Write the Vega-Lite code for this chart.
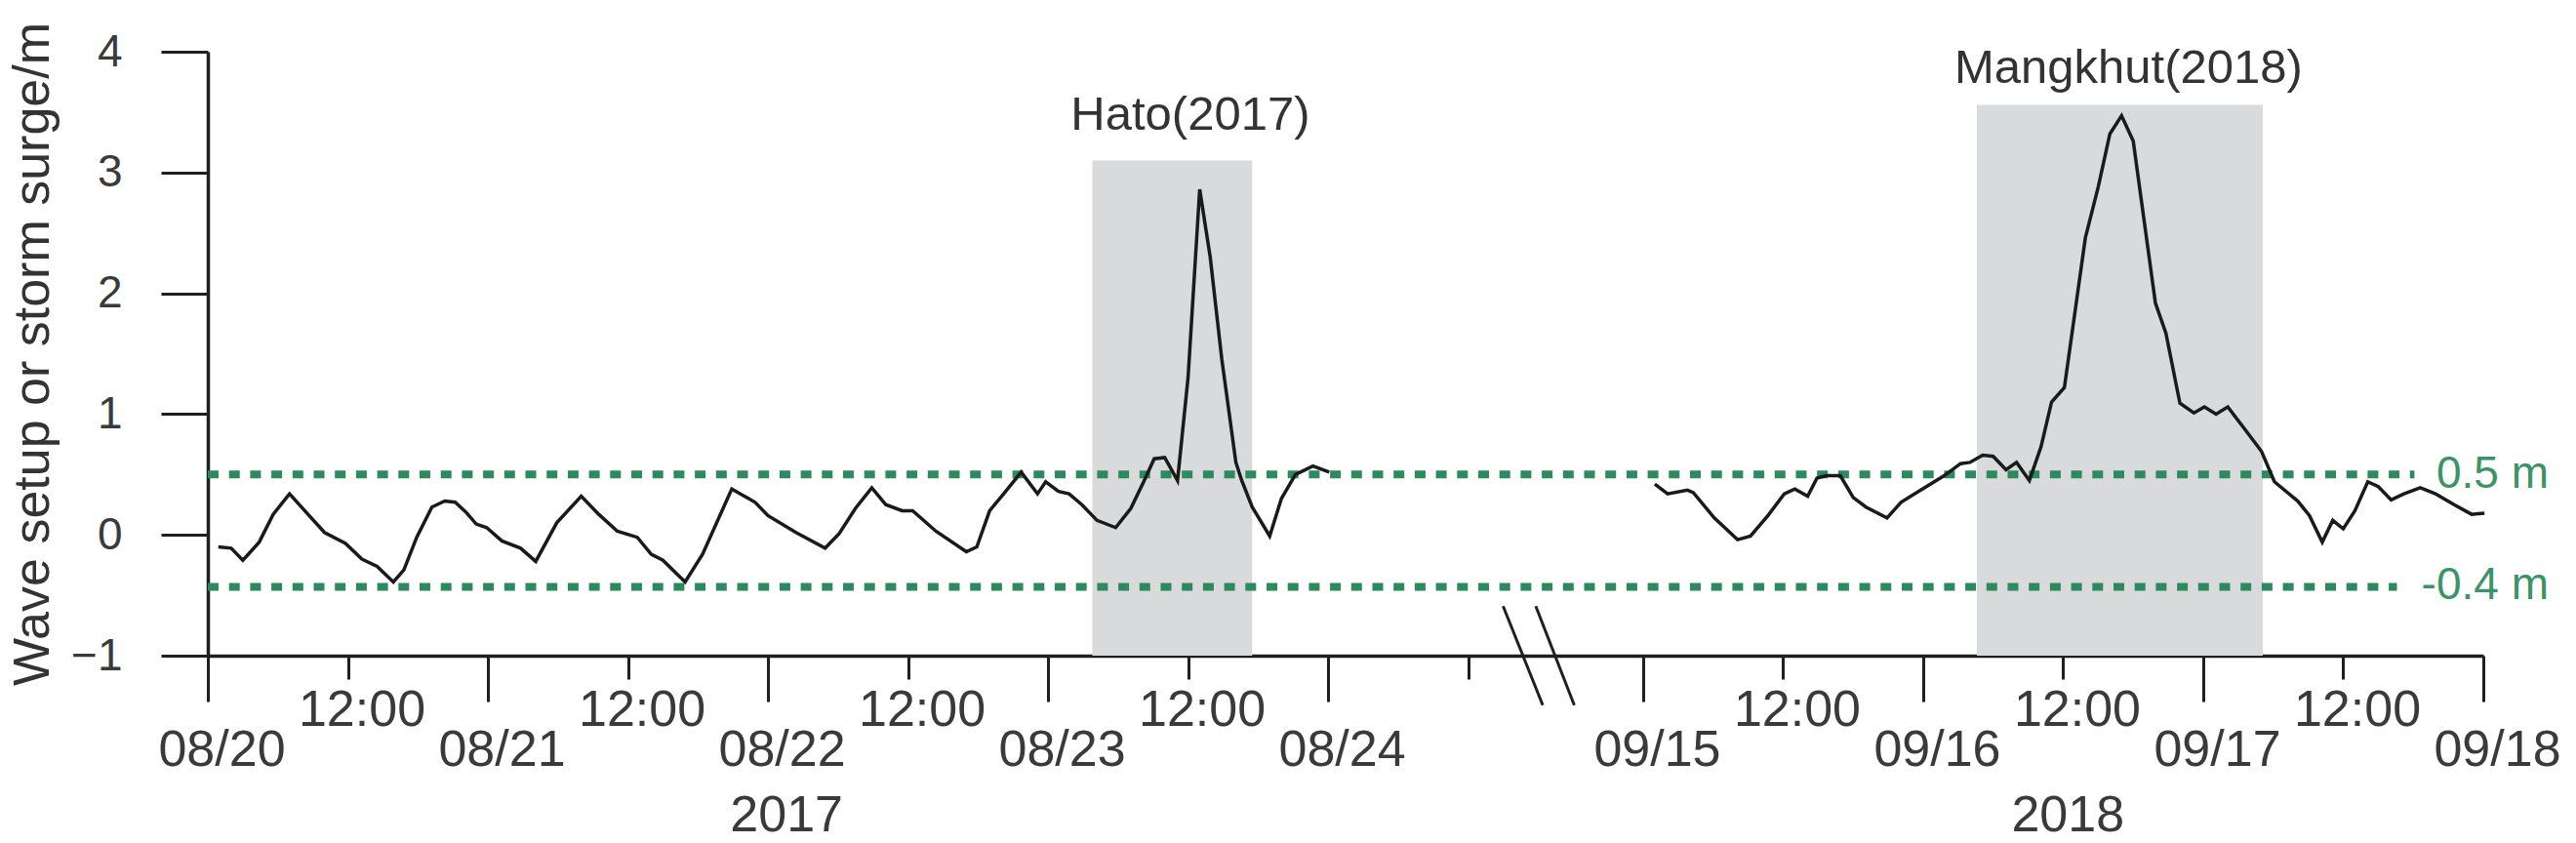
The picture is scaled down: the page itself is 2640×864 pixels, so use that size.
{
  "$schema": "https://vega.github.io/schema/vega-lite/v6.json",
  "width": 2332,
  "height": 619,
  "autosize": {"type": "none"},
  "padding": {"left": 213, "top": 53, "right": 95, "bottom": 192},
  "background": "white",
  "config": {"view": {"stroke": null}, "font": "Liberation Sans"},
  "data": {"values": [{}]},
  "datasets": {
    "series": [
      {"event": "2017", "h": 0.9, "v": -0.10}, {"event": "2017", "h": 2.0, "v": -0.11}, {"event": "2017", "h": 3.0, "v": -0.21},
      {"event": "2017", "h": 4.4, "v": -0.06}, {"event": "2017", "h": 5.6, "v": 0.17}, {"event": "2017", "h": 7.0, "v": 0.34},
      {"event": "2017", "h": 8.3, "v": 0.20}, {"event": "2017", "h": 10.0, "v": 0.02}, {"event": "2017", "h": 11.8, "v": -0.07},
      {"event": "2017", "h": 13.2, "v": -0.20}, {"event": "2017", "h": 14.5, "v": -0.26}, {"event": "2017", "h": 15.9, "v": -0.39},
      {"event": "2017", "h": 16.8, "v": -0.29}, {"event": "2017", "h": 17.9, "v": -0.02}, {"event": "2017", "h": 19.2, "v": 0.23},
      {"event": "2017", "h": 20.3, "v": 0.28}, {"event": "2017", "h": 21.2, "v": 0.27}, {"event": "2017", "h": 22.1, "v": 0.19},
      {"event": "2017", "h": 23.0, "v": 0.09}, {"event": "2017", "h": 23.9, "v": 0.06}, {"event": "2017", "h": 25.2, "v": -0.05},
      {"event": "2017", "h": 26.8, "v": -0.11}, {"event": "2017", "h": 28.1, "v": -0.22}, {"event": "2017", "h": 29.9, "v": 0.10},
      {"event": "2017", "h": 32.0, "v": 0.32}, {"event": "2017", "h": 33.5, "v": 0.17}, {"event": "2017", "h": 35.1, "v": 0.03},
      {"event": "2017", "h": 36.8, "v": -0.02}, {"event": "2017", "h": 38.0, "v": -0.16}, {"event": "2017", "h": 39.0, "v": -0.21},
      {"event": "2017", "h": 40.9, "v": -0.39}, {"event": "2017", "h": 42.4, "v": -0.16}, {"event": "2017", "h": 44.9, "v": 0.38},
      {"event": "2017", "h": 46.9, "v": 0.27}, {"event": "2017", "h": 48.0, "v": 0.16}, {"event": "2017", "h": 50.4, "v": 0.02},
      {"event": "2017", "h": 52.9, "v": -0.11}, {"event": "2017", "h": 54.1, "v": 0.01}, {"event": "2017", "h": 55.5, "v": 0.22},
      {"event": "2017", "h": 56.9, "v": 0.39}, {"event": "2017", "h": 58.1, "v": 0.25}, {"event": "2017", "h": 59.5, "v": 0.20},
      {"event": "2017", "h": 60.4, "v": 0.20}, {"event": "2017", "h": 62.4, "v": 0.03}, {"event": "2017", "h": 65.0, "v": -0.14},
      {"event": "2017", "h": 65.9, "v": -0.10}, {"event": "2017", "h": 67.0, "v": 0.20}, {"event": "2017", "h": 68.2, "v": 0.34},
      {"event": "2017", "h": 69.7, "v": 0.52}, {"event": "2017", "h": 71.1, "v": 0.34}, {"event": "2017", "h": 71.8, "v": 0.44},
      {"event": "2017", "h": 72.9, "v": 0.36}, {"event": "2017", "h": 73.8, "v": 0.34}, {"event": "2017", "h": 74.9, "v": 0.25},
      {"event": "2017", "h": 76.2, "v": 0.12}, {"event": "2017", "h": 77.8, "v": 0.06}, {"event": "2017", "h": 79.1, "v": 0.22},
      {"event": "2017", "h": 80.2, "v": 0.44}, {"event": "2017", "h": 81.1, "v": 0.63}, {"event": "2017", "h": 82.0, "v": 0.64},
      {"event": "2017", "h": 83.1, "v": 0.45}, {"event": "2017", "h": 84.0, "v": 1.30}, {"event": "2017", "h": 85.0, "v": 2.86},
      {"event": "2017", "h": 85.9, "v": 2.30}, {"event": "2017", "h": 86.9, "v": 1.45}, {"event": "2017", "h": 88.1, "v": 0.60},
      {"event": "2017", "h": 88.6, "v": 0.45}, {"event": "2017", "h": 89.5, "v": 0.23}, {"event": "2017", "h": 91.0, "v": -0.01},
      {"event": "2017", "h": 92.0, "v": 0.30}, {"event": "2017", "h": 93.2, "v": 0.50}, {"event": "2017", "h": 94.7, "v": 0.57},
      {"event": "2017", "h": 96.1, "v": 0.52},
      {"event": "2018", "h": 124.0, "v": 0.42}, {"event": "2018", "h": 125.1, "v": 0.34}, {"event": "2018", "h": 126.8, "v": 0.37},
      {"event": "2018", "h": 127.3, "v": 0.35}, {"event": "2018", "h": 129.1, "v": 0.14}, {"event": "2018", "h": 131.1, "v": -0.04},
      {"event": "2018", "h": 132.2, "v": -0.01}, {"event": "2018", "h": 133.7, "v": 0.16}, {"event": "2018", "h": 135.1, "v": 0.34},
      {"event": "2018", "h": 136.0, "v": 0.38}, {"event": "2018", "h": 137.1, "v": 0.32}, {"event": "2018", "h": 137.9, "v": 0.47},
      {"event": "2018", "h": 138.7, "v": 0.49}, {"event": "2018", "h": 139.9, "v": 0.49}, {"event": "2018", "h": 141.0, "v": 0.31},
      {"event": "2018", "h": 142.1, "v": 0.23}, {"event": "2018", "h": 143.9, "v": 0.14}, {"event": "2018", "h": 145.1, "v": 0.27},
      {"event": "2018", "h": 147.1, "v": 0.39}, {"event": "2018", "h": 148.8, "v": 0.49}, {"event": "2018", "h": 150.2, "v": 0.59},
      {"event": "2018", "h": 151.0, "v": 0.60}, {"event": "2018", "h": 152.1, "v": 0.66}, {"event": "2018", "h": 153.0, "v": 0.65},
      {"event": "2018", "h": 154.1, "v": 0.54}, {"event": "2018", "h": 155.0, "v": 0.60}, {"event": "2018", "h": 156.1, "v": 0.45},
      {"event": "2018", "h": 157.1, "v": 0.73}, {"event": "2018", "h": 158.0, "v": 1.10}, {"event": "2018", "h": 159.1, "v": 1.22},
      {"event": "2018", "h": 160.9, "v": 2.46}, {"event": "2018", "h": 162.0, "v": 2.88}, {"event": "2018", "h": 163.0, "v": 3.32},
      {"event": "2018", "h": 164.0, "v": 3.47}, {"event": "2018", "h": 165.0, "v": 3.26}, {"event": "2018", "h": 166.9, "v": 1.92},
      {"event": "2018", "h": 167.8, "v": 1.67}, {"event": "2018", "h": 169.0, "v": 1.09}, {"event": "2018", "h": 170.2, "v": 1.01},
      {"event": "2018", "h": 171.1, "v": 1.06}, {"event": "2018", "h": 172.1, "v": 1.00}, {"event": "2018", "h": 173.1, "v": 1.06},
      {"event": "2018", "h": 174.6, "v": 0.87}, {"event": "2018", "h": 176.0, "v": 0.69}, {"event": "2018", "h": 177.1, "v": 0.44},
      {"event": "2018", "h": 179.1, "v": 0.28}, {"event": "2018", "h": 180.1, "v": 0.16}, {"event": "2018", "h": 181.2, "v": -0.06},
      {"event": "2018", "h": 182.1, "v": 0.12}, {"event": "2018", "h": 183.0, "v": 0.05}, {"event": "2018", "h": 184.0, "v": 0.20},
      {"event": "2018", "h": 185.1, "v": 0.44}, {"event": "2018", "h": 186.0, "v": 0.40}, {"event": "2018", "h": 187.1, "v": 0.29},
      {"event": "2018", "h": 188.2, "v": 0.34}, {"event": "2018", "h": 189.6, "v": 0.39}, {"event": "2018", "h": 190.9, "v": 0.34},
      {"event": "2018", "h": 192.5, "v": 0.25}, {"event": "2018", "h": 194.0, "v": 0.17}, {"event": "2018", "h": 195.1, "v": 0.18}
    ],
    "shades": [
      {"event": "Hato", "start": 75.8, "end": 89.5, "top": 3.10},
      {"event": "Mangkhut", "start": 151.6, "end": 176.1, "top": 3.56}
    ]
  },
  "layer": [
    {
      "data": {"name": "shades"},
      "mark": {"type": "rect", "color": "#d9dadb"},
      "encoding": {
        "x": {
          "field": "start", "type": "quantitative",
          "scale": {"domain": [0, 195], "nice": false, "zero": false},
          "axis": {
            "values": [0, 12, 24, 36, 48, 60, 72, 84, 96, 108, 123, 135, 147, 159, 171, 183, 195],
            "labelExpr": "indexof([12,36,60,84,135,159,183], datum.value) >= 0 ? '12:00' : datum.value == 0 ? '08/20' : datum.value == 24 ? '08/21' : datum.value == 48 ? '08/22' : datum.value == 72 ? '08/23' : datum.value == 96 ? '08/24' : datum.value == 123 ? '09/15' : datum.value == 147 ? '09/16' : datum.value == 171 ? '09/17' : datum.value == 195 ? '09/18' : ''",
            "tickSize": {"condition": {"test": "indexof([0,24,48,72,96,123,147,171,195], datum.value) >= 0", "value": 47}, "value": 24},
            "labelPadding": {"condition": {"test": "indexof([0,24,48,72,96,123,147,171,195], datum.value) >= 0", "value": 24}, "value": 6},
            "labelOffset": 14,
            "labelFontSize": 52,
            "labelColor": "#3a3a3a",
            "labelFont": "Liberation Sans",
            "labelBaseline": "top",
            "labelFlush": false,
            "labelOverlap": false,
            "labelBound": false,
            "tickWidth": 3,
            "tickColor": "#1f1f1f",
            "domainWidth": 3.5,
            "domainColor": "#1f1f1f",
            "grid": false,
            "title": null
          }
        },
        "x2": {"field": "end"},
        "y": {
          "field": "top", "type": "quantitative",
          "scale": {"domain": [-1, 4], "nice": false, "zero": false},
          "axis": {
            "values": [-1, -0.5, 0, 0.5, 1, 1.5, 2, 2.5, 3, 3.5, 4],
            "format": "d",
            "labelExpr": "datum.value % 1 == 0 ? datum.label : ''",
            "tickSize": {"condition": {"test": "datum.value % 1 == 0", "value": 48}, "value": 24},
            "labelPadding": 40,
            "labelFontSize": 46,
            "labelColor": "#3a3a3a",
            "labelFont": "Liberation Sans",
            "labelFlush": false,
            "labelOverlap": false,
            "labelBound": false,
            "tickWidth": 3,
            "tickColor": "#1f1f1f",
            "domainWidth": 3.5,
            "domainColor": "#1f1f1f",
            "grid": false,
            "title": "Wave setup or storm surge/m",
            "titleFontSize": 52,
            "titleFontWeight": "normal",
            "titleFont": "Liberation Sans",
            "titleColor": "#333333",
            "titlePadding": 12
          }
        },
        "y2": {"datum": -1}
      }
    },
    {
      "mark": {"type": "rule", "color": "#2d8a5f", "strokeWidth": 8, "strokeDash": [11, 10.7], "strokeCap": "butt"},
      "encoding": {
        "x": {"datum": 0, "type": "quantitative"},
        "x2": {"datum": 189.1},
        "y": {"datum": 0.5, "type": "quantitative"}
      }
    },
    {
      "mark": {"type": "rule", "color": "#2d8a5f", "strokeWidth": 8, "strokeDash": [11, 10.7], "strokeCap": "butt"},
      "encoding": {
        "x": {"datum": 0, "type": "quantitative"},
        "x2": {"datum": 187.6},
        "y": {"datum": -0.43, "type": "quantitative"}
      }
    },
    {
      "data": {"name": "series"},
      "mark": {"type": "line", "color": "#1a1a1a", "strokeWidth": 3.5, "strokeJoin": "miter"},
      "encoding": {
        "x": {"field": "h", "type": "quantitative"},
        "y": {"field": "v", "type": "quantitative"},
        "detail": {"field": "event", "type": "nominal"}
      }
    },
    {
      "mark": {"type": "rule", "color": "#1f1f1f", "strokeWidth": 3},
      "encoding": {
        "x": {"datum": 111.0, "type": "quantitative"},
        "y": {"datum": -0.59, "type": "quantitative"},
        "x2": {"datum": 114.4},
        "y2": {"datum": -1.41}
      }
    },
    {
      "mark": {"type": "rule", "color": "#1f1f1f", "strokeWidth": 3},
      "encoding": {
        "x": {"datum": 113.8, "type": "quantitative"},
        "y": {"datum": -0.59, "type": "quantitative"},
        "x2": {"datum": 117.1},
        "y2": {"datum": -1.41}
      }
    },
    {
      "mark": {"type": "text", "text": "Hato(2017)", "fontSize": 49, "color": "#333333", "align": "center", "baseline": "alphabetic", "font": "Liberation Sans"},
      "encoding": {
        "x": {"datum": 84.2, "type": "quantitative"},
        "y": {"datum": 3.35, "type": "quantitative"}
      }
    },
    {
      "mark": {"type": "text", "text": "Mangkhut(2018)", "fontSize": 49, "color": "#333333", "align": "center", "baseline": "alphabetic", "font": "Liberation Sans"},
      "encoding": {
        "x": {"datum": 164.6, "type": "quantitative"},
        "y": {"datum": 3.74, "type": "quantitative"}
      }
    },
    {
      "mark": {"type": "text", "text": "0.5 m", "fontSize": 46, "color": "#3a9468", "align": "right", "baseline": "middle", "font": "Liberation Sans"},
      "encoding": {
        "x": {"datum": 200.6, "type": "quantitative"},
        "y": {"datum": 0.5, "type": "quantitative"}
      }
    },
    {
      "mark": {"type": "text", "text": "-0.4 m", "fontSize": 46, "color": "#3a9468", "align": "right", "baseline": "middle", "font": "Liberation Sans"},
      "encoding": {
        "x": {"datum": 200.6, "type": "quantitative"},
        "y": {"datum": -0.42, "type": "quantitative"}
      }
    },
    {
      "mark": {"type": "text", "text": "2017", "fontSize": 52, "color": "#3a3a3a", "align": "center", "baseline": "alphabetic", "font": "Liberation Sans"},
      "encoding": {
        "x": {"datum": 49.6, "type": "quantitative"},
        "y": {"datum": -2.45, "type": "quantitative"}
      }
    },
    {
      "mark": {"type": "text", "text": "2018", "fontSize": 52, "color": "#3a3a3a", "align": "center", "baseline": "alphabetic", "font": "Liberation Sans"},
      "encoding": {
        "x": {"datum": 159.4, "type": "quantitative"},
        "y": {"datum": -2.45, "type": "quantitative"}
      }
    }
  ]
}
